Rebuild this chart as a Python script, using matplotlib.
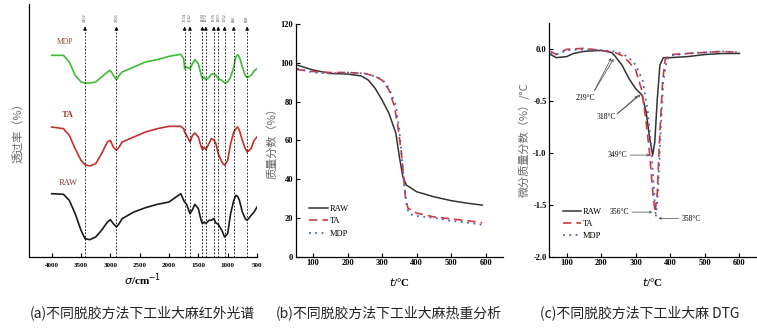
import matplotlib
matplotlib.use("Agg")
import matplotlib.pyplot as plt

plt.rcParams['font.family'] = ['Liberation Serif', 'Noto Sans CJK SC', 'DejaVu Sans']
CJK = ['Noto Sans CJK SC', 'DejaVu Sans']

# ---- (a) FTIR spectra ----
wn = [4000, 3800, 3700, 3600, 3500, 3432, 3350, 3250, 3150, 3050, 3000, 2950, 2896, 2850, 2800,
      2600, 2400, 2200, 2000, 1800, 1750, 1734, 1700, 1642, 1600, 1560, 1500, 1450, 1430, 1400,
      1372, 1320, 1280, 1235, 1200, 1160, 1100, 1052, 1000, 950, 896, 860, 830, 800, 750, 700,
      668, 600, 550, 500]
mdp_ir = [605, 605, 585, 545, 525, 522, 522, 525, 540, 555, 560, 545, 532, 545, 555,
          570, 585, 592, 602, 608, 595, 565, 570, 565, 580, 592, 580, 545, 535, 540,
          532, 538, 548, 550, 545, 535, 530, 522, 525, 540, 570, 600, 607, 600, 570, 545,
          538, 545, 558, 565]
ta_ir = [390, 385, 365, 325, 290, 277, 273, 280, 310, 345, 350, 330, 320, 330, 345,
         360, 375, 385, 392, 392, 385, 375, 365, 345, 365, 372, 360, 330, 322, 330,
         322, 340, 355, 352, 340, 310, 285, 275, 290, 340, 375, 385, 390, 380, 350, 325,
         315, 325, 350, 360]
raw_ir = [190, 188, 170, 130, 80, 55, 52, 60, 80, 105, 112, 100, 90, 100, 115,
          135, 148, 158, 165, 190, 170, 165, 158, 130, 142, 158, 145, 108, 100, 105,
          100, 110, 110, 115, 102, 98, 80, 60, 70, 130, 170, 185, 182, 170, 135, 115,
          110, 125, 135, 150]
peaks = [3432, 2896, 1734, 1642, 1430, 1372, 1235, 1160, 1052, 896, 668]

# ---- (b) TG ----
t_tg_raw = [54, 100, 150, 200, 240, 260, 280, 300, 320, 340, 350, 360, 370, 400, 450, 500, 550, 590]
raw_tg = [98.8, 96.3, 94.5, 94.2, 93.2, 91.1, 86.8, 80.8, 73.9, 63.6, 51.6, 41.3, 37.0, 33.5, 30.9, 28.9, 27.5, 26.6]
t_tg_ta = [54, 100, 150, 200, 250, 280, 300, 320, 335, 345, 355, 362, 368, 375, 400, 450, 500, 550, 590]
ta_tg = [96.5, 95.5, 95.0, 95.0, 94.5, 93.0, 91.0, 86.0, 78.0, 68.0, 55.0, 42.0, 30.0, 25.0, 22.5, 20.5, 19.5, 18.5, 17.5]
t_tg_mdp = [54, 100, 150, 200, 250, 280, 300, 320, 340, 350, 358, 365, 372, 380, 400, 450, 500, 550, 590]
mdp_tg = [97.0, 95.0, 94.5, 95.0, 94.5, 93.0, 91.5, 87.0, 78.0, 65.0, 50.0, 35.0, 25.0, 22.0, 21.0, 20.0, 18.5, 17.5, 16.5]

# ---- (c) DTG ----
t_d_raw = [54, 70, 100, 120, 150, 200, 230, 239, 260, 280, 300, 318, 330, 340, 349, 355, 362, 370, 380, 400, 450, 500, 550, 600]
raw_d = [-0.05, -0.08, -0.07, -0.04, -0.02, -0.01, -0.03, -0.06, -0.15, -0.28, -0.38, -0.44, -0.6, -0.85, -1.02, -0.9, -0.5, -0.15, -0.08, -0.08, -0.07, -0.05, -0.04, -0.04]
t_d_ta = [54, 70, 100, 150, 200, 240, 260, 280, 300, 318, 330, 340, 350, 356, 362, 370, 378, 385, 400, 450, 500, 550, 600]
ta_d = [-0.02, -0.05, 0.0, 0.01, -0.01, -0.03, -0.06, -0.12, -0.2, -0.4, -0.7, -1.0, -1.4, -1.57, -1.4, -0.8, -0.3, -0.1, -0.05, -0.04, -0.03, -0.02, -0.03]
t_d_mdp = [54, 70, 100, 150, 200, 240, 260, 280, 300, 320, 335, 345, 352, 358, 364, 372, 380, 390, 400, 450, 500, 550, 600]
mdp_d = [-0.03, -0.05, -0.01, 0.0, -0.01, -0.02, -0.04, -0.08, -0.15, -0.3, -0.6, -0.95, -1.3, -1.62, -1.4, -0.8, -0.3, -0.1, -0.06, -0.04, -0.03, -0.02, -0.03]

W, H = 757, 331
fig = plt.figure(figsize=(W / 100, H / 100), dpi=100)

# panel a
ax1 = fig.add_axes([29 / W, (H - 257) / H, 228 / W, 253 / H])
ax1.plot(wn, mdp_ir, color='#3dbb35', lw=1.2)
ax1.plot(wn, ta_ir, color='#c4302b', lw=1.2)
ax1.plot(wn, raw_ir, color='#1a1a1a', lw=1.2)
for p in peaks:
    ax1.plot([p, p], [0, 680], color='k', lw=0.6, ls=(0, (2, 2)))
    ax1.annotate('', xy=(p, 700), xytext=(p, 672),
                 arrowprops=dict(arrowstyle='-|>', color='k', lw=0.6, mutation_scale=5))
    ax1.text(p, 706, str(p), rotation=90, ha='center', va='bottom', fontsize=3.2, color='#444')
ax1.text(3780, 640, 'MDP', fontsize=5.5, color='#8a4a3a', ha='center')
ax1.text(3720, 420, 'TA', fontsize=6.5, color='#b0302a', ha='center', fontweight='bold')
ax1.text(3720, 215, 'RAW', fontsize=6, color='#7a3a2a', ha='center')
ax1.set_xlim(4387, 500)
ax1.set_ylim(0, 759)
ax1.set_xticks([4000, 3500, 3000, 2500, 2000, 1500, 1000, 500])
ax1.set_yticks([])
for s in ['top', 'right']:
    ax1.spines[s].set_visible(False)
ax1.tick_params(axis='x', length=3, width=0.8, pad=4, direction='in')
for lab in ax1.get_xticklabels():
    lab.set_fontsize(5); lab.set_fontweight('bold')
ax1.set_ylabel('透过率（%）', family=CJK, fontsize=8, color='#666', labelpad=4)
ax1.set_xlabel(r'$\sigma$/cm$^{-1}$', fontsize=8, fontweight='bold', labelpad=3)

# panel b
ax2 = fig.add_axes([295.7 / W, (H - 256.7) / H, 207.3 / W, 232.7 / H])
ax2.plot(t_tg_raw, raw_tg, color='#333', lw=1.1, label='RAW')
ax2.plot(t_tg_ta, ta_tg, color='#d03a3a', lw=1.2, ls=(0, (5, 3)), label='TA')
ax2.plot(t_tg_mdp, mdp_tg, color='#4a5fc0', lw=1.3, ls=(0, (1, 2.5)), label='MDP')
ax2.set_xlim(50, 650)
ax2.set_ylim(0, 120)
ax2.set_xticks([100, 200, 300, 400, 500, 600])
ax2.set_yticks([0, 20, 40, 60, 80, 100, 120])
ax2.set_ylabel('质量分数（%）', family=CJK, fontsize=8, color='#666', labelpad=2)
ax2.set_xlabel(r'$t$/°C', fontsize=8, fontweight='bold', labelpad=6)
ax2.legend(loc='lower left', bbox_to_anchor=(0.03, 0.05), frameon=False, fontsize=6,
           handlelength=2.2, labelspacing=0.5, handletextpad=0.2)

# panel c
ax3 = fig.add_axes([549.3 / W, (H - 256.7) / H, 207.4 / W, 234 / H])
ax3.plot(t_d_raw, raw_d, color='#333', lw=1.1, label='RAW')
ax3.plot(t_d_ta, ta_d, color='#d03a3a', lw=1.2, ls=(0, (5, 3)), label='TA')
ax3.plot(t_d_mdp, mdp_d, color='#4a5fc0', lw=1.3, ls=(0, (1, 2.5)), label='MDP')
ax3.set_xlim(50, 650)
ax3.set_ylim(-2.0, 0.257)
ax3.set_xticks([100, 200, 300, 400, 500, 600])
ax3.set_yticks([-2.0, -1.5, -1.0, -0.5, 0.0])
ax3.set_yticklabels(['-2.0', '-1.5', '-1.0', '-0.5', '0.0'])
ax3.set_ylabel('微分质量分数（%）/°C', family=CJK, fontsize=8, color='#666', labelpad=2)
ax3.set_xlabel(r'$t$/°C', fontsize=8, fontweight='bold', labelpad=6)
ax3.legend(loc='lower left', bbox_to_anchor=(0.03, 0.04), frameon=False, fontsize=6,
           handlelength=2.2, labelspacing=0.5, handletextpad=0.2)
arr = dict(arrowstyle='<-', color='#444', lw=0.5, mutation_scale=4)
for xy in [(233, -0.06), (240, -0.07)]:
    ax3.annotate('', xy=(177, -0.42), xytext=xy, arrowprops=arr)
ax3.text(155, -0.47, '239°C', fontsize=5.5, ha='center', va='center')
for xy in [(312, -0.43), (320, -0.42)]:
    ax3.annotate('', xy=(240, -0.64), xytext=xy, arrowprops=arr)
ax3.text(215, -0.65, '318°C', fontsize=5.5, ha='center', va='center')
ax3.annotate('', xy=(276, -1.02), xytext=(349, -1.02), arrowprops=arr)
ax3.text(247, -1.02, '349°C', fontsize=5.5, ha='center', va='center')
ax3.annotate('', xy=(281, -1.57), xytext=(356, -1.57), arrowprops=arr)
ax3.text(252, -1.57, '356°C', fontsize=5.5, ha='center', va='center')
ax3.annotate('', xy=(432, -1.63), xytext=(358, -1.63), arrowprops=arr)
ax3.text(460, -1.64, '358°C', fontsize=5.5, ha='center', va='center')

for ax in (ax2, ax3):
    for s in ['top', 'right']:
        ax.spines[s].set_visible(False)
    ax.tick_params(length=3, width=0.8, pad=2, direction='in')
    for lab in ax.get_xticklabels() + ax.get_yticklabels():
        lab.set_fontsize(6); lab.set_fontweight('bold')

for ax in (ax1, ax2, ax3):
    for s in ['left', 'bottom']:
        ax.spines[s].set_linewidth(0.9)

fig.text(142 / W, 1 - 313 / H, '(a)不同脱胶方法下工业大麻红外光谱', family=CJK, fontsize=10,
         ha='center', va='center', color='#222')
fig.text(389 / W, 1 - 313 / H, '(b)不同脱胶方法下工业大麻热重分析', family=CJK, fontsize=10,
         ha='center', va='center', color='#222')
fig.text(640 / W, 1 - 313 / H, '(c)不同脱胶方法下工业大麻 DTG', family=CJK, fontsize=10,
         ha='center', va='center', color='#222')

fig.savefig('out.png', dpi=100)
